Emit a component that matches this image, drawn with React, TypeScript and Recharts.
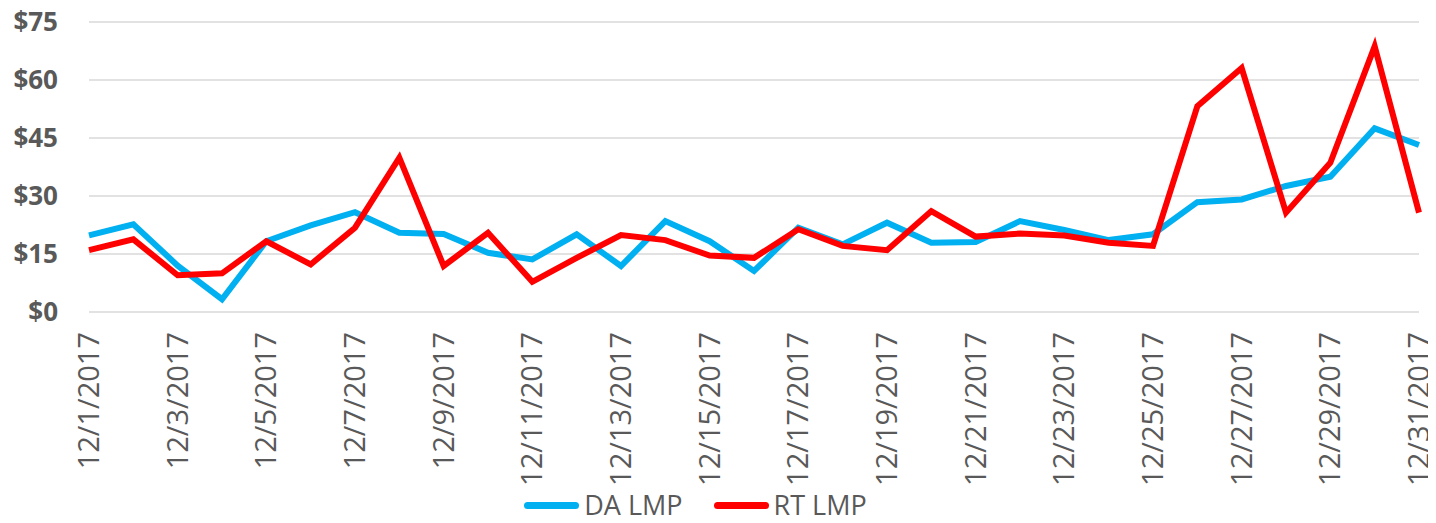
import { LineChart, Line, XAxis, YAxis, CartesianGrid, Legend } from "recharts";

const days = [
  "12/1/2017", "12/2/2017", "12/3/2017", "12/4/2017", "12/5/2017", "12/6/2017",
  "12/7/2017", "12/8/2017", "12/9/2017", "12/10/2017", "12/11/2017", "12/12/2017",
  "12/13/2017", "12/14/2017", "12/15/2017", "12/16/2017", "12/17/2017", "12/18/2017",
  "12/19/2017", "12/20/2017", "12/21/2017", "12/22/2017", "12/23/2017", "12/24/2017",
  "12/25/2017", "12/26/2017", "12/27/2017", "12/28/2017", "12/29/2017", "12/30/2017",
  "12/31/2017",
];

// day-ahead LMP, $/MWh
const daLmp = [
  19.8, 22.7, 12.0, 3.3, 18.3, 22.4, 25.8, 20.5, 20.2, 15.3, 13.6, 20.1, 11.9, 23.5,
  18.3, 10.6, 21.8, 17.5, 23.1, 17.9, 18.1, 23.5, 21.2, 18.6, 20.1, 28.4, 29.1, 32.6,
  35.0, 47.5, 43.2,
];

// real-time LMP, $/MWh
const rtLmp = [
  16.0, 18.8, 9.5, 10.0, 18.3, 12.3, 21.8, 39.9, 11.9, 20.5, 7.8, 14.0, 19.9, 18.6,
  14.6, 14.0, 21.4, 17.1, 16.0, 26.1, 19.5, 20.3, 19.8, 17.9, 17.1, 53.2, 63.1, 25.7,
  38.6, 68.7, 25.7,
];

const priceTicks = [0, 15, 30, 45, 60, 75];

const series = [
  { key: "da", name: "DA LMP", color: "#00b0f0" },
  { key: "rt", name: "RT LMP", color: "#ff0000" },
];

const data = days.map((day, i) => ({ day, da: daLmp[i], rt: rtLmp[i] }));

const FONT = "'Open Sans', sans-serif";
const TEXT_COLOR = "#595959";

const DateTick = ({ x, y, payload }: any) => (
  <text
    transform={`translate(${x},${y}) rotate(-90)`}
    textAnchor="end"
    dy="0.35em"
    fontFamily={FONT}
    fontSize={29}
    fill={TEXT_COLOR}
  >
    {payload.value}
  </text>
);

const SeriesLegend = () => (
  <div
    style={{
      display: "flex",
      justifyContent: "center",
      alignItems: "center",
      boxSizing: "border-box",
      paddingTop: 4,
      paddingRight: 28,
      height: 40,
      fontFamily: FONT,
      fontSize: 27,
      lineHeight: "28px",
      color: TEXT_COLOR,
    }}
  >
    {series.map((s, i) => (
      <div
        key={s.key}
        style={{ display: "flex", alignItems: "center", marginLeft: i ? 31 : 0 }}
      >
        <span
          style={{
            display: "inline-block",
            width: 55,
            height: 7,
            borderRadius: 4,
            background: s.color,
            marginRight: 5,
          }}
        />
        <span>{s.name}</span>
      </div>
    ))}
  </div>
);

export default function App() {
  return (
    // cancel the default body margin so the chart sits at the page origin
    <div style={{ margin: "-8px 0 0 -8px" }}>
      <LineChart
        width={1436}
        height={523}
        data={data}
        margin={{ top: 22, right: 17, left: 0, bottom: 0 }}
      >
        <CartesianGrid vertical={false} stroke="#d9d9d9" strokeWidth={1.5} />
        <XAxis
          dataKey="day"
          interval={1}
          axisLine={false}
          tickLine={false}
          tickSize={0}
          tickMargin={20}
          height={171}
          tick={<DateTick />}
        />
        <YAxis
          domain={[0, 75]}
          ticks={priceTicks}
          width={89}
          axisLine={false}
          tickLine={false}
          tickSize={0}
          tickMargin={31}
          tickFormatter={(v: number) => `$${v}`}
          tick={{ fontFamily: FONT, fontSize: 26, fontWeight: 700, fill: TEXT_COLOR }}
        />
        <Legend verticalAlign="bottom" height={40} content={<SeriesLegend />} />
        {series.map((s) => (
          <Line
            key={s.key}
            dataKey={s.key}
            name={s.name}
            type="linear"
            stroke={s.color}
            strokeWidth={6}
            dot={false}
            activeDot={false}
            isAnimationActive={false}
          />
        ))}
      </LineChart>
    </div>
  );
}
